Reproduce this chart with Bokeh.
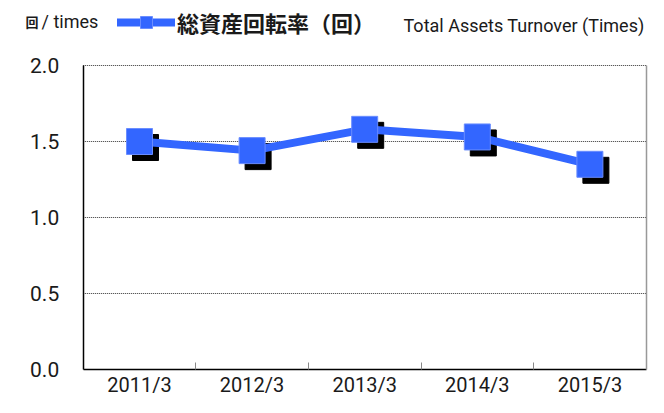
from bokeh.plotting import figure
from bokeh.models import (ColumnDataSource, Range1d, FixedTicker, LinearAxis,
                          Legend, LegendItem, Label)
from bokeh.transform import dodge
from bokeh.embed import file_html
from bokeh.resources import INLINE

# ---- data ----
categories = ["2011/3", "2012/3", "2013/3", "2014/3", "2015/3"]
turnover = [1.50, 1.44, 1.58, 1.53, 1.35]
y_ticks = [0.0, 0.5, 1.0, 1.5, 2.0]
y_tick_labels = ["0.0", "0.5", "1.0", "1.5", "2.0"]
series_name = "総資産回転率（回）"
series_name_en = "Total Assets Turnover (Times)"
unit_cjk = "回"
unit_en = "/ times"

BLUE = "#3366FF"
EDGE = "#6a8dff"
LATIN = "Roboto"
CJK = "Noto Sans CJK JP"
TXT = "#1a1a1a"

n = len(categories)
xpos = [i + 0.5 for i in range(n)]
src = ColumnDataSource(dict(x=xpos, y=turnover))
grid_src = ColumnDataSource(dict(x0=[0] * (len(y_ticks) - 1), x1=[n] * (len(y_ticks) - 1),
                                 y=y_ticks[1:]))

# Frame covers the whole canvas; axes are pinned inside it so the header
# texts and legend can live in the frame as well.
W, H = 648, 397
LEFT_PX, RIGHT_PX = 82.7, 645.7      # where x=0 and x=n fall
TOP_PX, BOT_PX = 65.0, 369.0         # where y=2.0 and y=0 fall
ymax = y_ticks[-1]
xs = (RIGHT_PX - LEFT_PX) / n
ys = (BOT_PX - TOP_PX) / ymax
x_range = Range1d(-LEFT_PX / xs, n + (W - RIGHT_PX) / xs)
y_range = Range1d(-(H - BOT_PX) / ys, ymax + TOP_PX / ys)

p = figure(width=W, height=H, output_backend="svg", toolbar_location=None,
           x_range=x_range, y_range=y_range, min_border=0,
           min_border_left=0, min_border_right=0, min_border_top=0,
           min_border_bottom=0)
p.outline_line_color = None
p.grid.visible = False

# bottom axis
xa = p.xaxis[0]
xa.fixed_location = 0
xa.bounds = (0, n)
xa.ticker = FixedTicker(ticks=xpos, minor_ticks=list(range(1, n)))
xa.major_label_overrides = {x: c for x, c in zip(xpos, categories)}
xa.major_tick_in = 0
xa.major_tick_out = 0
xa.minor_tick_in = 7
xa.minor_tick_out = 0
xa.minor_tick_line_color = "#888888"
xa.axis_line_color = "black"
xa.axis_line_width = 1.5
xa.major_label_text_font = LATIN
xa.major_label_text_font_size = "20px"
xa.major_label_text_color = TXT
xa.major_label_standoff = 3

# left axis
ya = p.yaxis[0]
ya.fixed_location = 0
ya.bounds = (0, ymax)
ya.ticker = FixedTicker(ticks=y_ticks)
ya.major_label_overrides = {t: l for t, l in zip(y_ticks, y_tick_labels)}
ya.major_tick_in = 0
ya.major_tick_out = 0
ya.minor_tick_line_color = None
ya.axis_line_color = "black"
ya.axis_line_width = 1.5
ya.major_label_text_font = LATIN
ya.major_label_text_font_size = "21px"
ya.major_label_text_color = TXT
ya.major_label_standoff = 24

# right border
right = LinearAxis(fixed_location=n, bounds=(0, ymax), ticker=FixedTicker(ticks=[]),
                   axis_line_color="#999999", axis_line_width=1.5,
                   major_tick_line_color=None, major_tick_out=0, major_tick_in=0,
                   major_label_standoff=0, minor_tick_line_color=None,
                   major_label_text_font_size="0px")
p.add_layout(right, "right")

# horizontal dotted grid lines at the y ticks
p.segment(x0="x0", x1="x1", y0="y", y1="y", source=grid_src,
          line_color="#333333", line_dash="1 1", line_width=1)

# marker shadows, line, markers
p.scatter(x=dodge("x", 6 / xs), y=dodge("y", -6 / ys), source=src, marker="square",
          size=26, fill_color="black", line_color="black")
line_r = p.line("x", "y", source=src, line_color=BLUE, line_width=8,
                line_join="round", line_cap="round")
mark_r = p.scatter("x", "y", source=src, marker="square", size=26,
                   fill_color=BLUE, line_color=EDGE, line_width=1)

# header: legend + texts (screen units from the frame's bottom-left)
legend = Legend(items=[LegendItem(label=series_name, renderers=[line_r, mark_r])],
                location=(117, H - 38), orientation="horizontal",
                border_line_color=None, background_fill_alpha=0,
                padding=0, margin=0, spacing=0,
                glyph_width=58, glyph_height=30, label_standoff=2,
                label_text_font=CJK, label_text_font_style="bold",
                label_text_font_size="22px", label_text_color=TXT,
                label_text_baseline="middle")
p.add_layout(legend, "center")
p.add_layout(Label(x=403, y=H - 25, x_units="screen", y_units="screen",
                   text=series_name_en, text_font=LATIN,
                   text_font_size="18px", text_baseline="middle",
                   text_color=TXT))
p.add_layout(Label(x=25, y=H - 21, x_units="screen", y_units="screen",
                   text=unit_cjk, text_font=CJK, text_font_style="bold",
                   text_font_size="13px", text_baseline="middle",
                   text_color=TXT))
p.add_layout(Label(x=41, y=H - 21, x_units="screen", y_units="screen",
                   text=unit_en, text_font=LATIN,
                   text_font_size="18px", text_baseline="middle",
                   text_color=TXT))

open("out.html", "w").write(file_html(p, INLINE))
